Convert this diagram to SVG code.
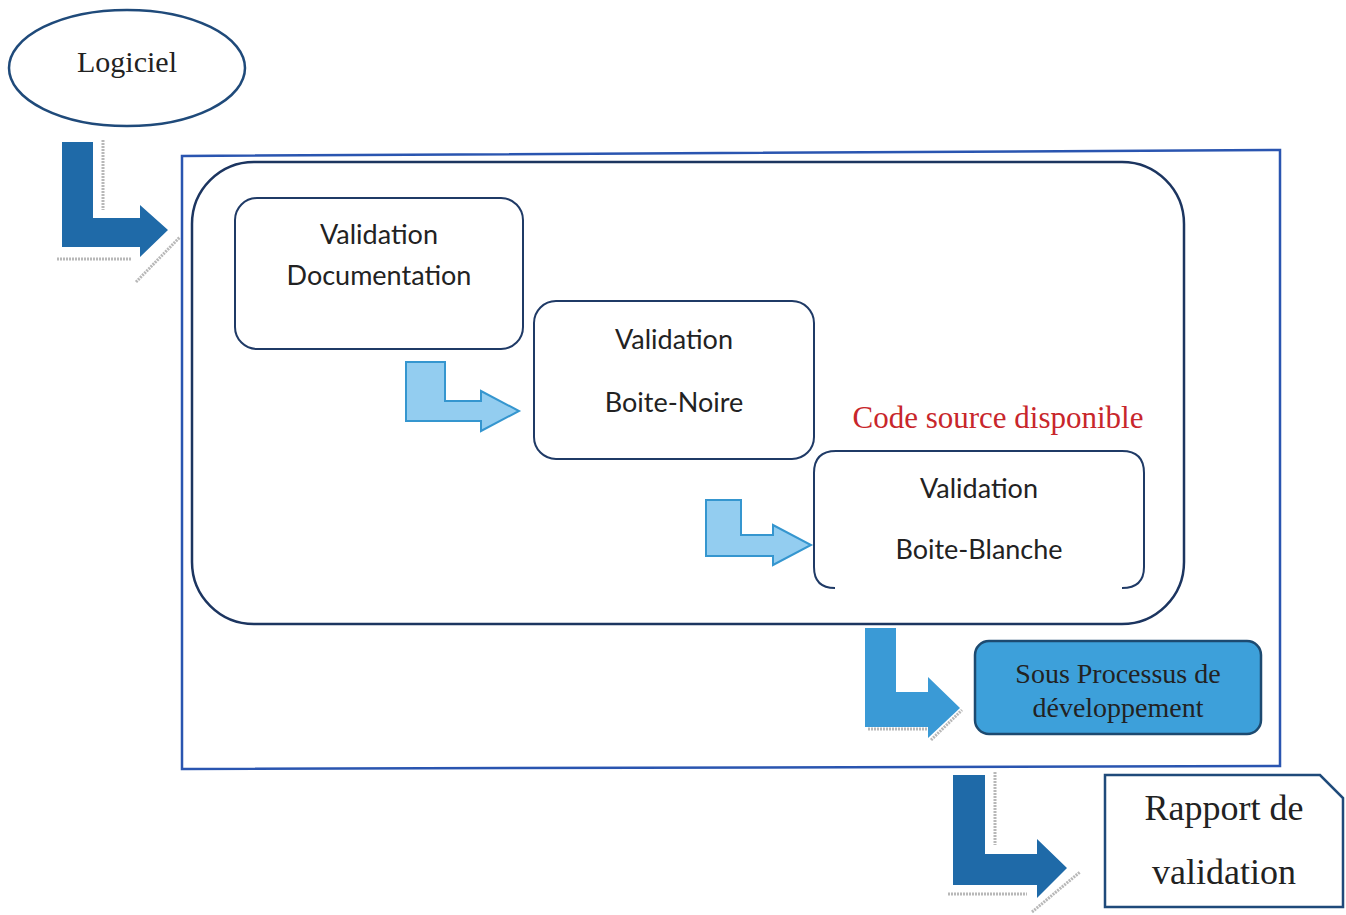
<svg xmlns="http://www.w3.org/2000/svg" width="1346" height="915" viewBox="0 0 1346 915">
<style>
.serif{font-family:"Liberation Serif","Times New Roman",serif;fill:#222;}
.sans{font-family:Lato,"Open Sans",sans-serif;fill:#222;font-size:27px;}
.box{fill:#fff;stroke:#1f3a66;stroke-width:2;}
.dark{fill:#1f6aa8;}
.mid{fill:#3a9ad6;}
.light{fill:#93cdf0;stroke:#3596cf;stroke-width:2;}
.shadow{stroke:#b8b8b8;stroke-width:3;stroke-dasharray:2 1;fill:none;}
</style>
<rect width="1346" height="915" fill="#fff"/>
<g id="logiciel">
<ellipse cx="127" cy="68" rx="118" ry="58" fill="#fff" stroke="#1f4a7a" stroke-width="2.5"/>
<text class="serif" x="127" y="72" font-size="30" text-anchor="middle">Logiciel</text>
</g>
<g id="processus-validation">
<polygon points="182,156 1280,150 1280,766 182,769" fill="none" stroke="#2a55b0" stroke-width="2.5"/>
</g>
<g id="validation-groupe">
<rect x="192" y="162" width="992" height="462" rx="62" fill="none" stroke="#1c3560" stroke-width="2.5"/>
</g>
<g id="validation-documentation">
<rect class="box" x="235" y="198" width="288" height="151" rx="22"/>
<text class="sans" x="379" y="244" text-anchor="middle">Validation</text>
<text class="sans" x="379" y="285" text-anchor="middle">Documentation</text>
</g>
<g id="validation-boite-noire">
<rect class="box" x="534" y="301" width="280" height="158" rx="22"/>
<text class="sans" x="674" y="349" text-anchor="middle">Validation</text>
<text class="sans" x="674" y="412" text-anchor="middle">Boite-Noire</text>
</g>
<g id="code-source">
<text x="998" y="428" font-family="Liberation Serif, serif" font-size="31" fill="#c8262b" text-anchor="middle">Code source disponible</text>
</g>
<g id="validation-boite-blanche">
<path d="M835,588 Q814,588 814,567 L814,473 Q814,451 836,451 L1122,451 Q1144,451 1144,473 L1144,567 Q1144,588 1122,588" fill="#fff" stroke="#1f3a66" stroke-width="2"/>
<text class="sans" x="979" y="498" text-anchor="middle">Validation</text>
<text class="sans" x="979" y="559" text-anchor="middle">Boite-Blanche</text>
</g>
<g id="sous-processus">
<rect x="975" y="641" width="286" height="93" rx="14" fill="#3da0da" stroke="#1d4a70" stroke-width="2.5"/>
<text class="serif" x="1118" y="683" font-size="28" text-anchor="middle">Sous Processus de</text>
<text class="serif" x="1118" y="717" font-size="28" text-anchor="middle">développement</text>
</g>
<g id="rapport">
<polygon points="1105,775 1320,775 1343,798 1343,907 1105,907" fill="#fff" stroke="#1f4a7a" stroke-width="2.5"/>
<text class="serif" x="1224" y="820" font-size="36" text-anchor="middle">Rapport de</text>
<text class="serif" x="1224" y="884" font-size="36" text-anchor="middle">validation</text>
</g>
<g id="connectors">
<g id="arrow-logiciel">
<line class="shadow" x1="103" y1="140" x2="103" y2="210"/>
<line class="shadow" x1="57" y1="259" x2="132" y2="259"/>
<line class="shadow" x1="136" y1="282" x2="180" y2="237"/>
<polygon class="dark" points="62,142 93,142 93,218 140,218 140,205 168,230 140,257 140,247 62,247"/>
</g>
<g id="arrow-doc-noire">
<polygon class="light" points="406,362 445,362 445,401 481,401 481,391 519,411 481,431 481,421 406,421"/>
</g>
<g id="arrow-noire-blanche">
<polygon class="light" points="706,500 741,500 741,535 773,535 773,525 811,545 773,565 773,556 706,556"/>
</g>
<g id="arrow-sous-processus">
<line class="shadow" x1="868" y1="729" x2="928" y2="729"/>
<line class="shadow" x1="931" y1="740" x2="962" y2="710"/>
<polygon class="mid" points="865,628 896,628 896,692 928,692 928,677 960,708 928,738 928,727 865,727"/>
</g>
<g id="arrow-rapport">
<line class="shadow" x1="995" y1="772" x2="995" y2="845"/>
<line class="shadow" x1="948" y1="894" x2="1027" y2="894"/>
<line class="shadow" x1="1032" y1="912" x2="1080" y2="872"/>
<polygon class="dark" points="953,775 985,775 985,854 1037,854 1037,839 1067,868 1037,898 1037,885 953,885"/>
</g>
</g>
</svg>
